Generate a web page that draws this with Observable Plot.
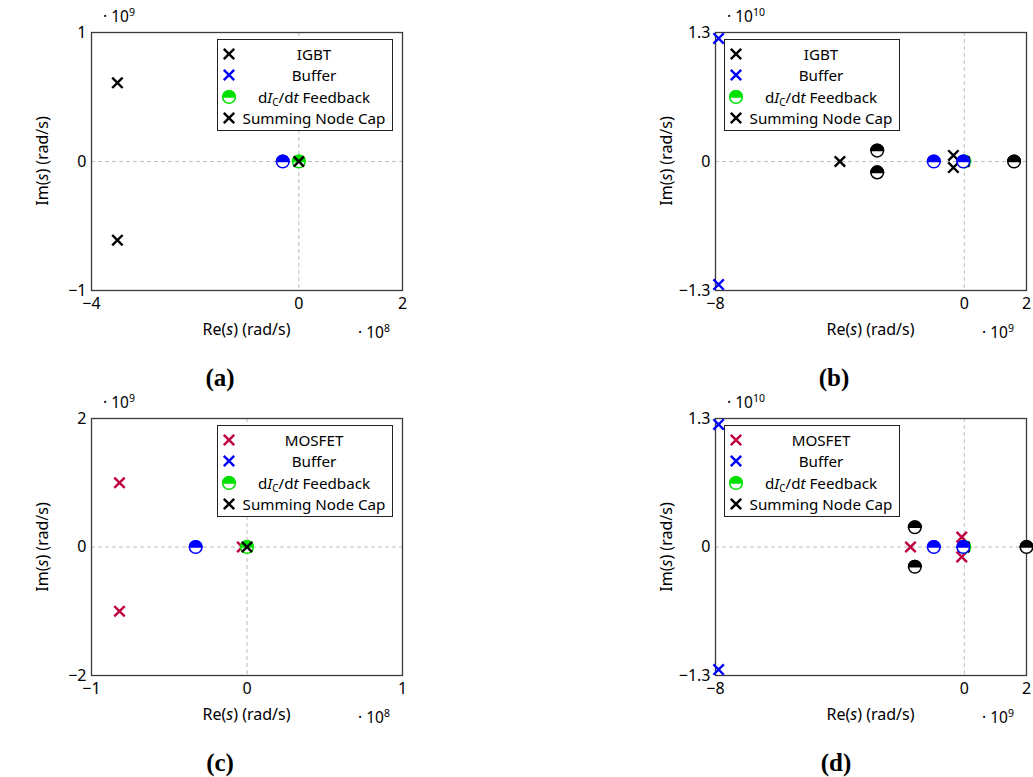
<!DOCTYPE html>
<html><head><meta charset="utf-8">
<script src="https://cdn.jsdelivr.net/npm/d3@7"></script>
<script src="https://cdn.jsdelivr.net/npm/@observablehq/plot@0.6"></script>
<style>
html,body{margin:0;padding:0;background:#fff;overflow:hidden;}
#root{position:relative;width:1033px;height:777px;overflow:hidden;font-family:"Noto Sans",sans-serif;color:#000;}
.t{position:absolute;white-space:nowrap;line-height:1;}
.lg{position:absolute;border:1px solid #222;background:#fff;box-sizing:border-box;}
.lg .row{position:absolute;left:0;right:0;height:20px;}
.lg .row svg{position:absolute;left:1px;top:0;}
.lg .row span{position:absolute;left:18px;right:0;text-align:center;top:2px;font-size:15.2px;line-height:16px;}
sup{font-size:10.5px;vertical-align:0;position:relative;top:-6px;line-height:0;}
sub{font-size:10px;vertical-align:0;position:relative;top:3px;line-height:0;}
.cap{font-family:"Liberation Serif",serif;font-weight:bold;font-size:25px;}
</style></head>
<body><div id="root"></div>
<script>
// ---- data (rad/s): [Re, Im] ----
const igbtPoles = [[-3.5e8, 6.1e8], [-3.5e8, -6.1e8], [-4.0e9, 0]];
const igbtZeros = [[-2.8e9, 1.1e9], [-2.8e9, -1.1e9], [1.6e9, 0]];
const bufferPolesIGBT = [[-7.9e9, 1.24e10], [-7.9e9, -1.24e10]];
const bufferZerosIGBT = [[-9.8e8, 0], [-3.1e7, 0]];
const feedbackZerosIGBT = [[0, 0]];
const summingPolesIGBT = [[0, 0]];

const mosfetPoles = [[-8.2e7, 1.0e9], [-8.2e7, -1.0e9], [-1.73e9, 0], [-3e6, 0]];
const mosfetZeros = [[-1.59e9, 2.0e9], [-1.59e9, -2.0e9], [2.0e9, 0]];
const bufferPolesMOS = [[-7.9e9, 1.24e10], [-7.9e9, -1.24e10]];
const bufferZerosMOS = [[-9.8e8, 0], [-3.3e7, 0]];
const feedbackZerosMOS = [[0, 0]];
const summingPolesMOS = [[0, 0]];

const legendIGBT = ["IGBT", "Buffer", "dI_C/dt Feedback", "Summing Node Cap"];
const legendMOS = ["MOSFET", "Buffer", "dI_C/dt Feedback", "Summing Node Cap"];

const panels = [
  {cap:"(a)", left:91, top:32, w:311, h:258, xs:1e8, ys:1e9, xd:[-4,2], yd:[-1,1], xt:[-4,0,2], yt:[-1,0,1], xe:"8", ye:"9", dev:"igbt", legLeft:217, capX:220},
  {cap:"(b)", left:715, top:32, w:311, h:258, xs:1e9, ys:1e10, xd:[-8,2], yd:[-1.3,1.3], xt:[-8,0,2], yt:[-1.3,0,1.3], xe:"9", ye:"10", dev:"igbt", legLeft:724, capX:834},
  {cap:"(c)", left:91, top:418, w:311, h:257, xs:1e8, ys:1e9, xd:[-1,1], yd:[-2,2], xt:[-1,0,1], yt:[-2,0,2], xe:"8", ye:"9", dev:"mos", legLeft:217, capX:220},
  {cap:"(d)", left:715, top:418, w:311, h:257, xs:1e9, ys:1e10, xd:[-8,2], yd:[-1.3,1.3], xt:[-8,0,2], yt:[-1.3,0,1.3], xe:"9", ye:"10", dev:"mos", legLeft:724, capX:836}
];

const COL = {igbt:"#000000", mos:"#BF0040", buffer:"#0000FF", fb:"#00E000", sum:"#000000"};

const crossSym = {draw(ctx, size){ const r = Math.sqrt(size/Math.PI); ctx.moveTo(-r,-r); ctx.lineTo(r,r); ctx.moveTo(r,-r); ctx.lineTo(-r,r); }};
const topHalf = {draw(ctx, size){ const r = Math.sqrt(size/Math.PI); ctx.moveTo(r,0); ctx.arc(0,0,r,0,Math.PI,true); ctx.closePath(); }};

const fmt = d => d < 0 ? "\u2212" + Math.abs(d) : String(d);
const root = document.getElementById("root");

function crosses(pts, color){
  return Plot.dot(pts, {x:"x", y:"y", r:5.2, symbol:crossSym, fill:"none", stroke:color, strokeWidth:2.4});
}
function halfs(pts, color){
  return [
    Plot.dot(pts, {x:"x", y:"y", r:6.3, fill:"white", stroke:color, strokeWidth:1.5}),
    Plot.dot(pts, {x:"x", y:"y", r:6.3, symbol:topHalf, fill:color, stroke:color, strokeWidth:1.5})
  ];
}
function addText(html, x, y, cls, extra){
  const d = document.createElement("div");
  d.className = "t " + (cls||"");
  d.innerHTML = html;
  d.style.left = x + "px"; d.style.top = y + "px";
  d.style.transform = extra || "translate(-50%,-50%)";
  root.appendChild(d);
  return d;
}
function legendMarker(kind, color){
  if (kind === "x") return `<svg width="20" height="20"><path d="M4.8,4.8L15.2,15.2M15.2,4.8L4.8,15.2" stroke="${color}" stroke-width="2.4" fill="none"/></svg>`;
  return `<svg width="20" height="20"><circle cx="10" cy="10" r="6.3" fill="white" stroke="${color}" stroke-width="1.5"/><path d="M16.3,10A6.3,6.3 0 0 0 3.7,10Z" fill="${color}" stroke="${color}" stroke-width="1.5"/></svg>`;
}

panels.forEach(cfg => {
  const ML = 60, MR = 7, MT = 10, MB = 30;
  const tol = 0.06;
  const conv = arr => arr.map(([re, im]) => ({x: re / cfg.xs, y: im / cfg.ys}))
    .filter(p => p.x >= cfg.xd[0] - tol*(cfg.xd[1]-cfg.xd[0]) && p.x <= cfg.xd[1] + tol*(cfg.xd[1]-cfg.xd[0]) &&
                 p.y >= cfg.yd[0] - tol*(cfg.yd[1]-cfg.yd[0]) && p.y <= cfg.yd[1] + tol*(cfg.yd[1]-cfg.yd[0]));
  const isI = cfg.dev === "igbt";
  const devP = conv(isI ? igbtPoles : mosfetPoles);
  const devZ = conv(isI ? igbtZeros : mosfetZeros);
  const bufP = conv(isI ? bufferPolesIGBT : bufferPolesMOS);
  const bufZ = conv(isI ? bufferZerosIGBT : bufferZerosMOS);
  const fbZ = conv(isI ? feedbackZerosIGBT : feedbackZerosMOS);
  const sumP = conv(isI ? summingPolesIGBT : summingPolesMOS);
  const devColor = isI ? COL.igbt : COL.mos;

  const svg = Plot.plot({
    width: cfg.w + ML + MR, height: cfg.h + MT + MB,
    marginLeft: ML, marginRight: MR, marginTop: MT, marginBottom: MB,
    style: {fontFamily:"Noto Sans", fontSize:"16px", color:"#000", background:"transparent", overflow:"visible"},
    x: {domain: cfg.xd, ticks: cfg.xt, tickSize: 0, tickPadding: 7, tickFormat: fmt, label: null},
    y: {domain: cfg.yd, ticks: cfg.yt, tickSize: 0, tickPadding: 5, tickFormat: fmt, label: null},
    marks: [
      Plot.ruleX([0], {stroke:"#bdbdbd", strokeWidth:1, strokeDasharray:"4,3"}),
      Plot.ruleY([0], {stroke:"#bdbdbd", strokeWidth:1, strokeDasharray:"4,3"}),
      Plot.frame({stroke:"#3a3a3a", strokeWidth:1.3}),
      crosses(devP, devColor),
      ...halfs(devZ, COL.igbt),
      ...halfs(fbZ, COL.fb),
      crosses(sumP, COL.sum),
      ...halfs(bufZ, COL.buffer),
      crosses(bufP, COL.buffer)
    ]
  });
  const wrap = document.createElement("div");
  wrap.style.position = "absolute";
  wrap.style.left = (cfg.left - ML) + "px";
  wrap.style.top = (cfg.top - MT) + "px";
  wrap.appendChild(svg);
  root.appendChild(wrap);

  const cx = cfg.left + cfg.w / 2, cy = cfg.top + cfg.h / 2, bottom = cfg.top + cfg.h, right = cfg.left + cfg.w;
  addText("Re(<i>s</i>) (rad/s)", cx, bottom + 39, "", "translate(-50%,-50%)").style.fontSize = "16px";
  addText("Im(<i>s</i>) (rad/s)", cfg.left - 49, cy, "", "translate(-50%,-50%) rotate(-90deg)").style.fontSize = "16px";
  const ex = addText("\u00b7 10<sup>" + cfg.xe + "</sup>", right - 44, bottom + 43, "", "translate(0,-50%)"); ex.style.fontSize = "15.5px";
  const ey = addText("\u00b7 10<sup>" + cfg.ye + "</sup>", cfg.left + 12, cfg.top - 15, "", "translate(0,-50%)"); ey.style.fontSize = "15.5px";
  addText(cfg.cap, cfg.capX, cfg.top + cfg.h + 87, "cap");

  const lg = document.createElement("div");
  lg.className = "lg";
  lg.style.left = cfg.legLeft + "px"; lg.style.top = (cfg.top + 7) + "px";
  lg.style.width = "176px"; lg.style.height = "92px";
  const labels = isI ? legendIGBT : legendMOS;
  const kinds = [["x", devColor], ["x", COL.buffer], ["h", COL.fb], ["x", COL.sum]];
  labels.forEach((lab, i) => {
    const row = document.createElement("div");
    row.className = "row";
    row.style.top = (4 + i * 21.3) + "px";
    const txt = lab === "dI_C/dt Feedback" ? "d<i>I</i><sub>C</sub>/d<i>t</i> Feedback" : lab;
    row.innerHTML = legendMarker(kinds[i][0], kinds[i][1]) + `<span>${txt}</span>`;
    lg.appendChild(row);
  });
  root.appendChild(lg);
});
</script>
</body></html>
